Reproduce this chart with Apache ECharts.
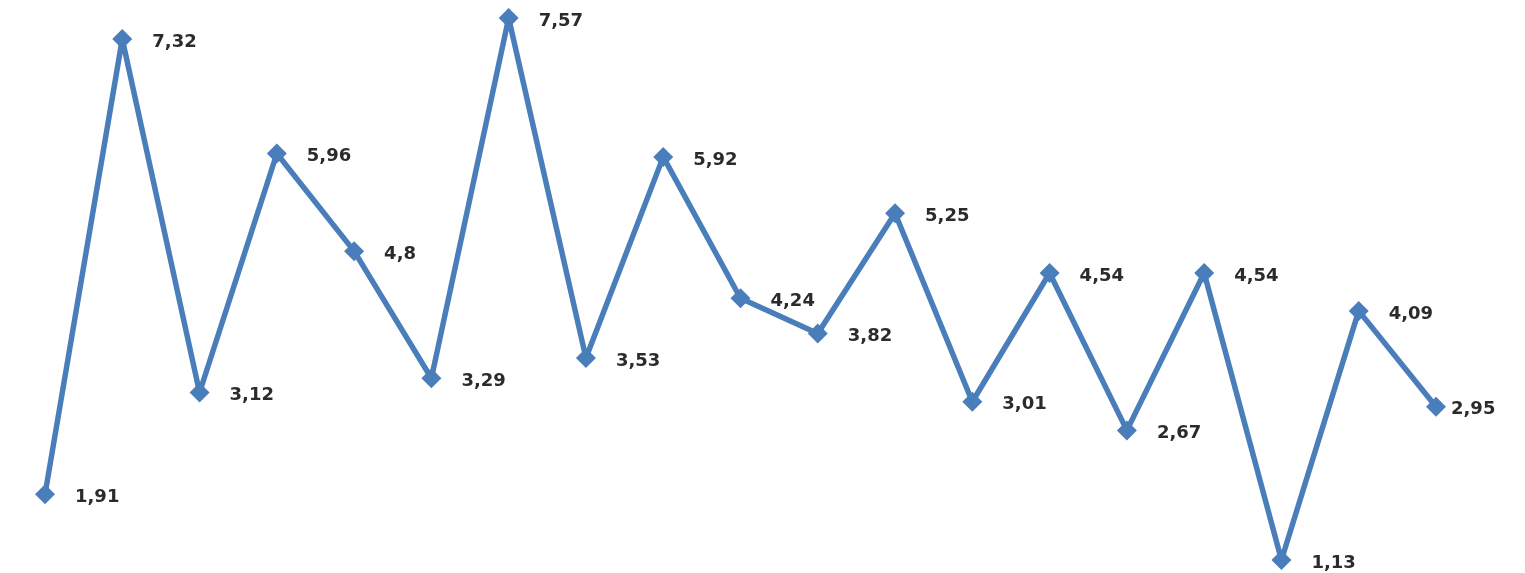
<!DOCTYPE html>
<html><head><meta charset="utf-8">
<script src="https://cdn.jsdelivr.net/npm/echarts@6/dist/echarts.min.js"></script>
<style>html,body{margin:0;padding:0;background:#fff}#c{width:1525px;height:573px}</style>
</head><body><div id="c"></div>
<script>
const categories = ['1','2','3','4','5','6','7','8','9','10','11','12','13','14','15','16','17','18','19'];
const values = [1.91, 7.32, 3.12, 5.96, 4.8, 3.29, 7.57, 3.53, 5.92, 4.24, 3.82, 5.25, 3.01, 4.54, 2.67, 4.54, 1.13, 4.09, 2.95];

const chart = echarts.init(document.getElementById('c'));
const fmt = v => String(v).replace('.', ',');
chart.setOption({
  animation: false,
  backgroundColor: '#ffffff',
  grid: { left: 45, right: 89, top: 15.5, height: 547 },
  xAxis: { type: 'category', data: categories, boundaryGap: false, show: false },
  yAxis: { type: 'value', min: 1.1, max: 7.6, show: false },
  series: [{
    type: 'line',
    data: values.map((v, i) => i === values.length - 1
      ? { value: v, label: { distance: 5 } } : v),
    color: '#4A7EBB',
    lineStyle: { width: 5.5, color: '#4A7EBB' },
    symbol: 'diamond',
    symbolSize: 20,
    itemStyle: { color: '#4A7EBB' },
    label: {
      show: true, position: 'right', distance: 20,
      offset: [0, 3],
      formatter: p => fmt(p.value),
      fontFamily: 'DejaVu Sans', fontSize: 18, fontWeight: 600, color: '#2b2b2b'
    }
  }]
});
</script></body></html>
